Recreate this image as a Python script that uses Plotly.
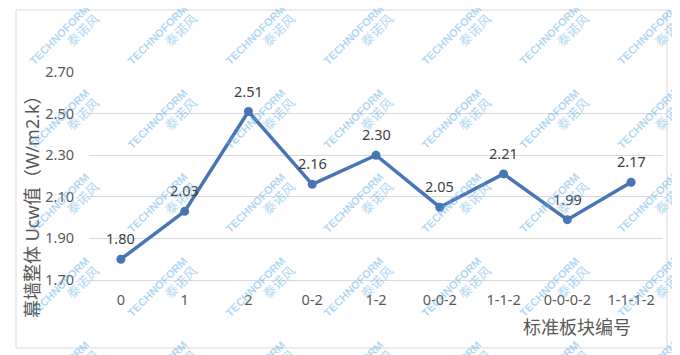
import plotly.graph_objects as go

categories = ["0", "1", "2", "0-2", "1-2", "0-0-2", "1-1-2", "0-0-0-2", "1-1-1-2"]
ucw_values = [1.80, 2.03, 2.51, 2.16, 2.30, 2.05, 2.21, 1.99, 2.17]
y_ticks = [1.70, 1.90, 2.10, 2.30, 2.50, 2.70]
y_tick_labels = ["1.70", "1.90", "2.10", "2.30", "2.50", "2.70"]
x_title = "标准板块编号"
y_title = "幕墙整体 Ucw值（W/m2.k）"

OFF = 8  # page body margin
W, H = 680 - OFF, 355 - OFF
L, R, T, B = 89 - OFF, 663 - OFF, 72 - OFF, 280 - OFF  # plot area in figure pixels


def px_to_paper(px, py):
    # px, py are pixel positions in the screenshot
    return (px - OFF - L) / (R - L), (B - (py - OFF)) / (B - T)


FONT = "Noto Sans, Noto Sans CJK SC, sans-serif"
LINE_COLOR = "#4775B5"

fig = go.Figure()
fig.add_trace(go.Scatter(
    x=categories, y=ucw_values, mode="lines+markers",
    line=dict(color=LINE_COLOR, width=3.5),
    marker=dict(color=LINE_COLOR, size=9),
    hoverinfo="skip", showlegend=False,
))

annotations = []
for c, v in zip(categories, ucw_values):
    annotations.append(dict(
        x=c, y=v, xref="x", yref="y", text=f"{v:.2f}", showarrow=False,
        xanchor="center", yanchor="middle",
        yshift=21, font=dict(family=FONT, size=14.5, color="#404040"),
    ))

# axis titles
ax, ay = px_to_paper(577, 327)
annotations.append(dict(x=ax, y=ay, xref="paper", yref="paper", text=x_title,
                        xanchor="center", yanchor="middle",
                        showarrow=False, font=dict(family=FONT, size=18, color="#595959")))
ax, ay = px_to_paper(32, 202)
annotations.append(dict(x=ax, y=ay, xref="paper", yref="paper", text=y_title,
                        xanchor="center", yanchor="middle",
                        textangle=-90, showarrow=False,
                        font=dict(family=FONT, size=18, color="#595959")))

# watermark grid
for j in range(5):
    for i in range(7):
        wx, wy = px_to_paper(64 + 98 * i, 40 + 84 * j)
        annotations.append(dict(
            x=wx, y=wy, xref="paper", yref="paper",
            xanchor="center", yanchor="middle",
            text="<b>TECHNOFORM</b><br><span style='font-size:13px'>泰诺风</span>",
            align="right", textangle=-45, showarrow=False,
            font=dict(family="Liberation Sans, Noto Sans CJK SC", size=11,
                      color="rgba(95,175,228,0.5)"),
        ))

x0, y1 = px_to_paper(16, 10)
x1, y0 = px_to_paper(667, 348)
fig.add_shape(type="rect", xref="paper", yref="paper", x0=x0, y0=y0, x1=x1, y1=y1,
              line=dict(color="#d9d9d9", width=1), layer="below")

fig.update_layout(
    width=W, height=H,
    margin=dict(l=L, r=W - R, t=T, b=H - B),
    paper_bgcolor="white", plot_bgcolor="white",
    annotations=annotations,
    xaxis=dict(
        type="category", range=[-0.5, len(categories) - 0.5],
        showgrid=False, zeroline=False, showline=True, linecolor="#d9d9d9",
        ticks="", ticklabelstandoff=7,
        tickfont=dict(family=FONT, size=14.5, color="#595959"),
        fixedrange=True,
    ),
    yaxis=dict(
        range=[1.7, 2.7], tickvals=y_ticks, ticktext=y_tick_labels,
        showgrid=True, gridcolor="#d9d9d9", gridwidth=1, zeroline=False,
        ticks="", ticklabelstandoff=14,
        tickfont=dict(family=FONT, size=14.5, color="#595959"),
        fixedrange=True,
    ),
)

fig.write_html("out.html")
